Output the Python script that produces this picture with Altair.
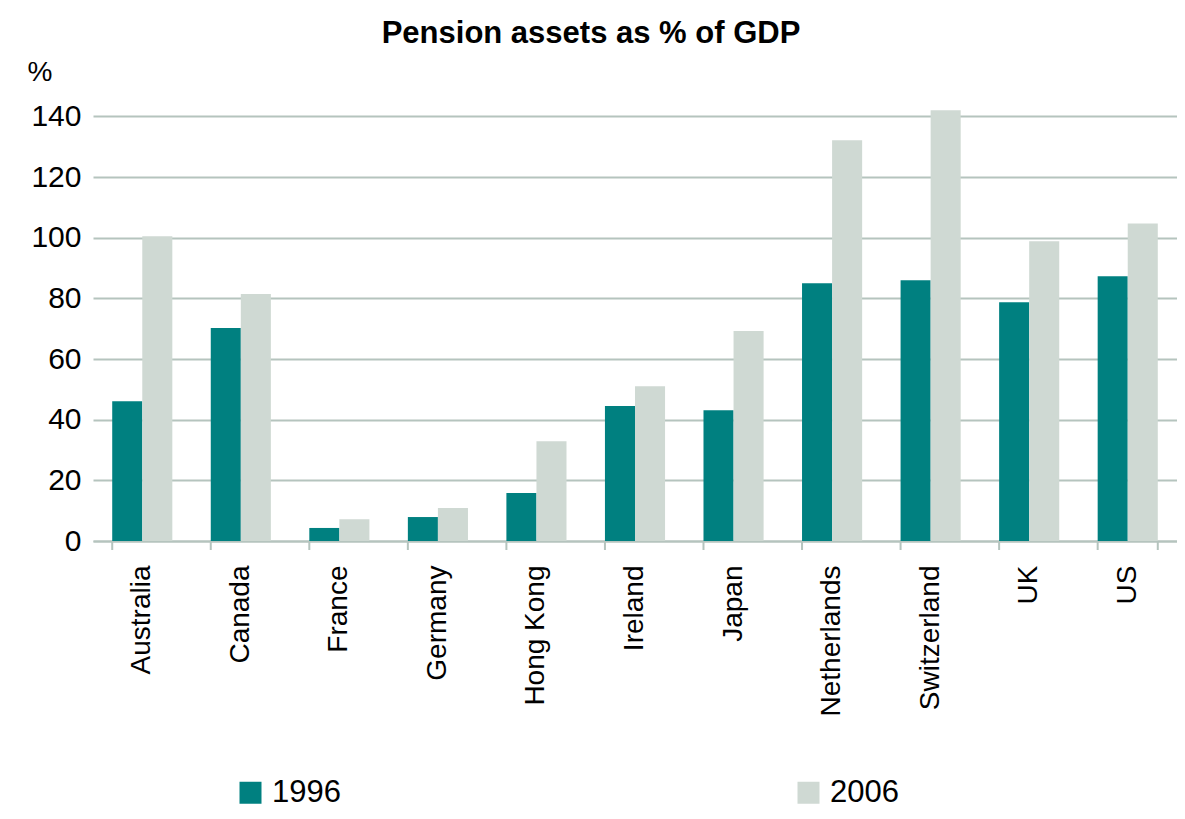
import altair as alt
import pandas as pd

countries = ["Australia", "Canada", "France", "Germany", "Hong Kong", "Ireland",
             "Japan", "Netherlands", "Switzerland", "UK", "US"]
v1996 = [46.1, 70.2, 4.3, 7.9, 15.8, 44.5, 43.1, 85.0, 86.0, 78.7, 87.3]
v2006 = [100.5, 81.4, 7.2, 10.9, 32.9, 51.0, 69.2, 132.1, 142.0, 98.8, 104.7]
years = ["1996", "2006"]
colors = ["#008080", "#CFD9D3"]
y_ticks = [0, 20, 40, 60, 80, 100, 120, 140]

rows = []
for c, a, b in zip(countries, v1996, v2006):
    rows.append({"country": c, "year": years[0], "value": a})
    rows.append({"country": c, "year": years[1], "value": b})
df = pd.DataFrame(rows)
ticks_df = pd.DataFrame({"country": countries})

FONT = "Liberation Sans"
GRID = "#B5C4BE"
W, H = 1084, 455

xscale = alt.Scale(domain=countries, paddingInner=0.39, paddingOuter=0.195)

bars = alt.Chart(df).mark_bar().encode(
    x=alt.X("country:N", sort=countries, scale=xscale,
            axis=alt.Axis(title=None, labelAngle=-90, labelFontSize=28,
                          labelFont=FONT, labelColor="black", labelPadding=24,
                          ticks=False, domain=True, domainColor=GRID,
                          domainWidth=2, grid=False, labelLimit=300)),
    xOffset=alt.XOffset("year:N", sort=years),
    y=alt.Y("value:Q", scale=alt.Scale(domain=[0, 150], nice=False),
            axis=alt.Axis(values=y_ticks, title="%", titleAngle=0,
                          titleAlign="left", titleBaseline="alphabetic",
                          titleX=-66, titleY=-6, titleFontSize=28,
                          titleFont=FONT, titleFontWeight="normal",
                          titleColor="black",
                          labelFontSize=30, labelFont=FONT, labelColor="black",
                          labelPadding=12, ticks=False, domain=False,
                          grid=True, gridColor=GRID, gridWidth=2)),
    color=alt.Color("year:N", sort=years,
                    scale=alt.Scale(domain=years, range=colors),
                    legend=alt.Legend(title=None, orient="none", legendX=142,
                                      legendY=691, direction="horizontal",
                                      columns=2, columnPadding=452,
                                      symbolType="square", symbolSize=484,
                                      symbolStrokeWidth=0, symbolOpacity=1,
                                      labelFontSize=31, labelFont=FONT,
                                      labelColor="black", labelOffset=6,
                                      padding=0)),
)

tick_rules = alt.Chart(ticks_df).mark_rule(color=GRID, strokeWidth=2).encode(
    x=alt.X("country:N", sort=countries, scale=xscale, bandPosition=0),
    y=alt.value(H), y2=alt.value(H + 9),
)
end_rule = alt.Chart(ticks_df.tail(1)).mark_rule(color=GRID, strokeWidth=2).encode(
    x=alt.X("country:N", sort=countries, scale=xscale, bandPosition=1),
    y=alt.value(H), y2=alt.value(H + 9),
)

chart = alt.layer(bars, tick_rules, end_rule).properties(
    width=W, height=H,
    autosize=alt.AutoSizeParams(type="none"),
    padding={"left": 85, "top": 78, "right": 0, "bottom": 270},
    title=alt.TitleParams("Pension assets as % of GDP", fontSize=31,
                          font=FONT, fontWeight="bold", color="black",
                          anchor="middle", frame="group", dx=-44,
                          baseline="alphabetic", offset=-16),
).configure_view(stroke=None)

chart.save("out.html", embed_options={"renderer": "svg", "actions": False})
